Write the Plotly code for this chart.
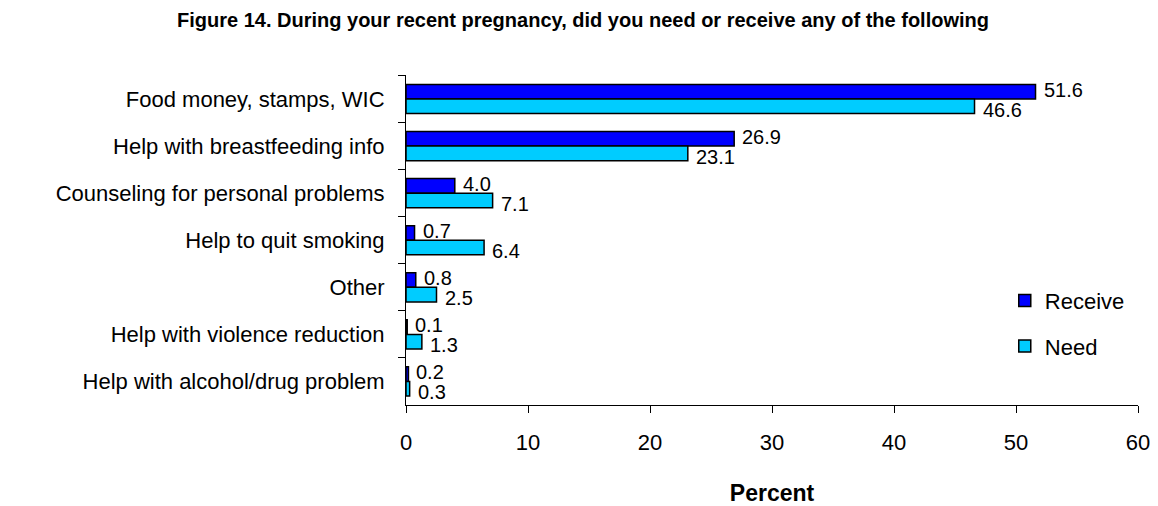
import plotly.graph_objects as go

categories = [
    "Food money, stamps, WIC",
    "Help with breastfeeding info",
    "Counseling for personal problems",
    "Help to quit smoking",
    "Other",
    "Help with violence reduction",
    "Help with alcohol/drug problem",
]
receive = [51.6, 26.9, 4.0, 0.7, 0.8, 0.1, 0.2]
need = [46.6, 23.1, 7.1, 6.4, 2.5, 1.3, 0.3]
x_ticks = [0, 10, 20, 30, 40, 50, 60]

FONT = "Liberation Sans, Arial, sans-serif"

fig = go.Figure()
fig.add_trace(go.Bar(
    y=categories, x=receive, name="Receive", orientation="h",
    marker=dict(color="#0000FF", line=dict(color="black", width=1.5)),
    legendgroup="r",
))
fig.add_trace(go.Bar(
    y=categories, x=need, name="Need", orientation="h",
    marker=dict(color="#00CCFF", line=dict(color="black", width=1.5)),
    legendgroup="n",
))

# value labels (placed through the axes from the data)
annotations = []
for cat, v in zip(categories, receive):
    annotations.append(dict(
        x=v, y=cat, xref="x", yref="y", text=f"{v:.1f}", showarrow=False,
        xanchor="left", yanchor="middle", xshift=6, yshift=9,
        font=dict(family=FONT, size=20, color="black"),
    ))
for cat, v in zip(categories, need):
    annotations.append(dict(
        x=v, y=cat, xref="x", yref="y", text=f"{v:.1f}", showarrow=False,
        xanchor="left", yanchor="middle", xshift=6, yshift=-11,
        font=dict(family=FONT, size=20, color="black"),
    ))

fig.update_layout(
    width=1150, height=498,
    paper_bgcolor="white", plot_bgcolor="white",
    margin=dict(l=398, r=20, t=67, b=101, autoexpand=False),
    barmode="group", bargap=0.38, bargroupgap=0,
    font=dict(family=FONT, size=22, color="black"),
    title=dict(
        text="<b>Figure 14. During your recent pregnancy, did you need or receive any of the following</b>",
        x=0.5, xanchor="center", y=0.976, yanchor="middle",
        font=dict(family=FONT, size=20, color="black"),
    ),
    legend=dict(
        x=0.818, xanchor="left", y=0.38, yanchor="top",
        font=dict(family=FONT, size=22, color="black"),
        traceorder="grouped", tracegroupgap=14,
        bgcolor="rgba(0,0,0,0)",
    ),
    showlegend=True,
    annotations=annotations,
)
fig.update_xaxes(
    range=[0, 60], tickvals=x_ticks, ticks="outside", ticklen=7,
    tickcolor="black", showline=True, linecolor="black", linewidth=1,
    showgrid=False, zeroline=False, automargin=False,
    tickfont=dict(family=FONT, size=22),
    ticklabelstandoff=11,
    title=dict(text="<b>Percent</b>", font=dict(family=FONT, size=23), standoff=32),
)
fig.update_yaxes(
    type="category", autorange="reversed", tickson="boundaries",
    ticks="outside", ticklen=7, tickcolor="black",
    showline=True, linecolor="black", linewidth=1, showgrid=False,
    automargin=False,
    tickfont=dict(family=FONT, size=22),
    ticklabelstandoff=16,
)

fig.write_html("out.html")
